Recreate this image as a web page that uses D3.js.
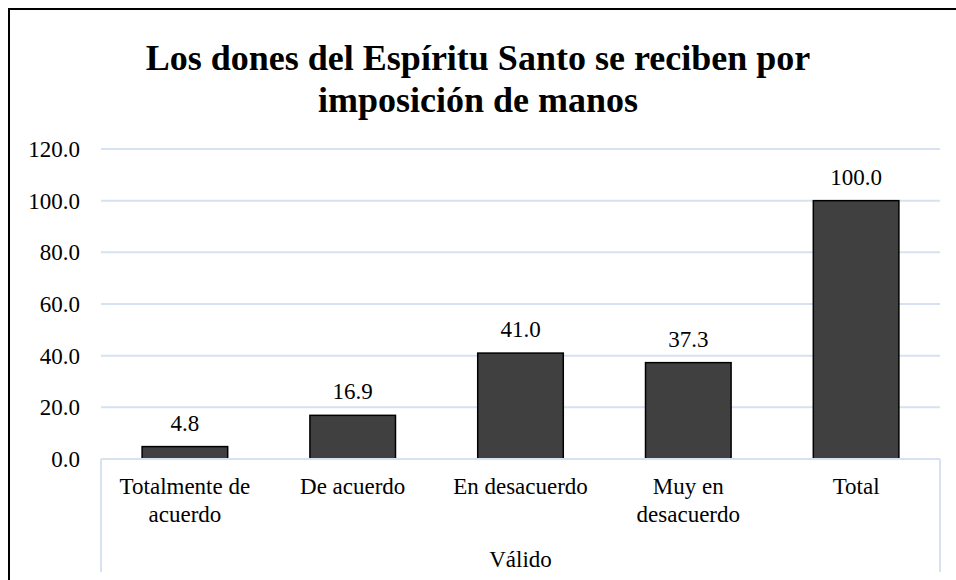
<!DOCTYPE html>
<html>
<head>
<meta charset="utf-8">
<script src="https://cdn.jsdelivr.net/npm/d3@7/dist/d3.min.js"></script>
<style>
  body { margin: 0; background: #fff; }
  svg text { font-family: "Liberation Serif", Tinos, "Times New Roman", Times, "DejaVu Serif", serif; fill: #000; }
</style>
</head>
<body>
<svg width="956" height="580"></svg>
<script>
var categories = [["Totalmente de", "acuerdo"], ["De acuerdo"], ["En desacuerdo"], ["Muy en", "desacuerdo"], ["Total"]];
var values = [4.8, 16.9, 41.0, 37.3, 100.0];
var yTicks = [0, 20, 40, 60, 80, 100, 120];
var groupLabel = "Válido";
var titleLines = ["Los dones del Espíritu Santo se reciben por", "imposición de manos"];

var svg = d3.select("svg"),
    width = +svg.attr("width"),
    height = +svg.attr("height");

var margin = {top: 149, right: 16, bottom: 121, left: 101};
var gridColor = "#d6e1f2";
var serif = "'Liberation Serif', Tinos, 'Times New Roman', Times, 'DejaVu Serif', serif";

// outer chart border (runs off the right and bottom edges)
svg.append("rect")
    .attr("x", 9).attr("y", 9)
    .attr("width", 960).attr("height", 600)
    .attr("fill", "none")
    .attr("stroke", "#000")
    .attr("stroke-width", 2);

svg.append("text")
    .attr("text-anchor", "middle")
    .attr("font-family", serif)
    .attr("font-weight", "bold")
    .attr("font-size", 36)
    .selectAll("tspan")
    .data(titleLines)
    .enter().append("tspan")
    .attr("x", width / 2)
    .attr("y", function(d, i) { return 70 + i * 42; })
    .text(function(d) { return d; });

var x = d3.scaleBand()
    .domain(d3.range(categories.length))
    .range([margin.left, width - margin.right])
    .paddingInner(0.49)
    .paddingOuter(0.245);

var y = d3.scaleLinear()
    .domain([0, 120])
    .range([height - margin.bottom, margin.top]);

// gridlines
svg.append("g")
  .selectAll("line")
  .data(yTicks.slice(1))
  .enter().append("line")
    .attr("x1", margin.left)
    .attr("x2", width - margin.right)
    .attr("y1", function(d) { return y(d); })
    .attr("y2", function(d) { return y(d); })
    .attr("stroke", gridColor)
    .attr("stroke-width", 2);

// y axis labels
var yAxis = svg.append("g")
    .attr("transform", "translate(" + margin.left + ",0)")
    .call(d3.axisLeft(y).tickValues(yTicks).tickSize(0).tickPadding(21).tickFormat(d3.format(".1f")))
    .attr("font-family", serif)
    .attr("font-size", 23);
yAxis.select(".domain").remove();
yAxis.selectAll("text").attr("fill", "#000");

// bars
svg.append("g")
  .selectAll("rect")
  .data(values)
  .enter().append("rect")
    .attr("x", function(d, i) { return x(i); })
    .attr("y", function(d) { return y(d); })
    .attr("width", x.bandwidth())
    .attr("height", function(d) { return y(0) - y(d); })
    .attr("fill", "#404040")
    .attr("stroke", "#000")
    .attr("stroke-width", 1.5);

// value labels
svg.append("g")
    .attr("font-family", serif)
    .attr("font-size", 23)
  .selectAll("text")
  .data(values)
  .enter().append("text")
    .attr("x", function(d, i) { return x(i) + x.bandwidth() / 2; })
    .attr("y", function(d) { return y(d) - 16; })
    .attr("text-anchor", "middle")
    .text(d3.format(".1f"));

// category axis
var base = y(0);
var axisG = svg.append("g")
    .attr("stroke", gridColor)
    .attr("stroke-width", 2)
    .attr("fill", "none");
axisG.append("line")
    .attr("x1", margin.left).attr("x2", width - margin.right)
    .attr("y1", base).attr("y2", base);
axisG.append("line")
    .attr("x1", margin.left).attr("x2", margin.left)
    .attr("y1", base).attr("y2", base + 113);
axisG.append("line")
    .attr("x1", width - margin.right).attr("x2", width - margin.right)
    .attr("y1", base).attr("y2", base + 113);

svg.append("g")
    .attr("font-family", serif)
    .attr("font-size", 23)
  .selectAll("text")
  .data(categories)
  .enter().append("text")
    .attr("text-anchor", "middle")
  .selectAll("tspan")
  .data(function(d, i) { return d.map(function(t) { return {t: t, i: i}; }); })
  .enter().append("tspan")
    .attr("x", function(d) { return x(d.i) + x.bandwidth() / 2; })
    .attr("y", function(d, j) { return base + 35 + j * 28; })
    .text(function(d) { return d.t; });

svg.append("text")
    .attr("x", (margin.left + width - margin.right) / 2)
    .attr("y", base + 108)
    .attr("text-anchor", "middle")
    .attr("font-family", serif)
    .attr("font-size", 23)
    .text(groupLabel);
</script>
</body>
</html>
